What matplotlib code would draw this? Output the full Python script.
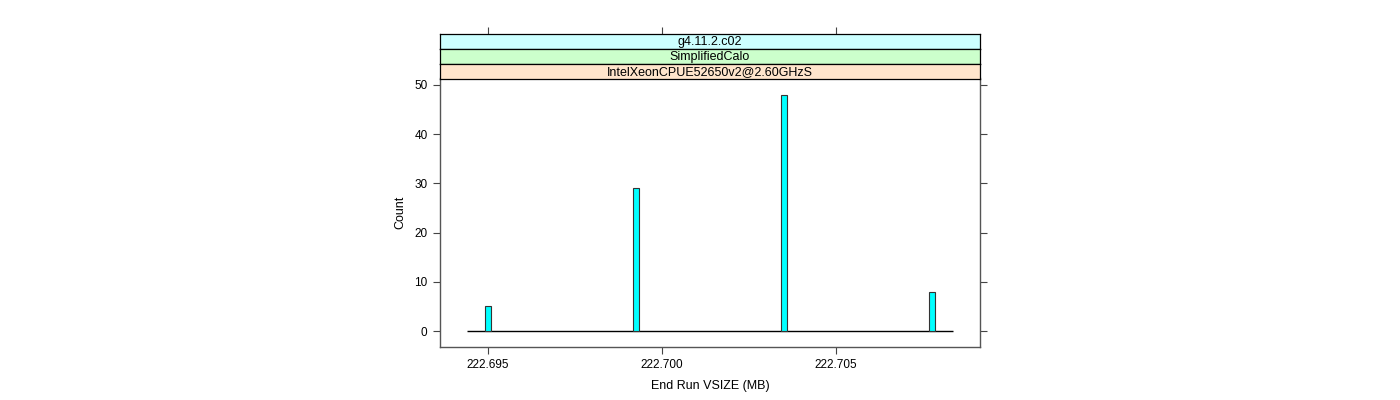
import matplotlib
matplotlib.use("Agg")
from matplotlib import pyplot as plt

plt.rcParams['font.family'] = ['Liberation Sans', 'DejaVu Sans']

# histogram data
vsize = [222.6950, 222.69925, 222.7035, 222.70775]
counts = [5, 29, 48, 8]
bin_width = 0.00017
hist_min = 222.6944
hist_max = 222.70836

strips = ["g4.11.2.c02", "SimplifiedCalo", "IntelXeonCPUE52650v2@2.60GHzS"]
strip_cols = ["#CCFFFF", "#CCFFCC", "#FFE5CC"]

xticks = [222.695, 222.700, 222.705]
xticklabels = ["222.695", "222.700", "222.705"]
yticks = [0, 10, 20, 30, 40, 50]

W, H = 1400, 400
fig = plt.figure(figsize=(14, 4), dpi=100)

def box(x0, y0, x1, y1):
    # pixel coords (top-left origin) -> figure fraction
    return [x0 / W, 1 - y1 / H, (x1 - x0) / W, (y1 - y0) / H]

border = "#555555"
ax = fig.add_axes(box(440, 78, 980, 347))
ax.bar(vsize, counts, width=bin_width, color="#00FFFF", edgecolor="#333333", linewidth=0.8, zorder=3)
ax.hlines(0, hist_min, hist_max, color="black", linewidth=1.0, zorder=2)
ax.set_xlim(222.69362, 222.70914)
ax.set_ylim(-3.25, 51.4)
ax.set_xticks(xticks)
ax.set_xticklabels(xticklabels)
ax.set_yticks(yticks)
ax.tick_params(axis='both', direction='out', length=5, width=0.8, colors='#444444',
               labelcolor='black', labelsize=8.5, right=True, pad=4)
for s in ax.spines.values():
    s.set_color(border)
    s.set_linewidth(1.0)
ax.spines['top'].set_visible(False)
ax.set_xlabel("End Run VSIZE (MB)", fontsize=9, labelpad=6)
ax.set_ylabel("Count", fontsize=9, labelpad=6)

# strips stacked above the panel, top one first
tops = [33.5, 48.5, 63.5]
for i, (lab, col) in enumerate(zip(strips, strip_cols)):
    sax = fig.add_axes(box(440, tops[i], 980, tops[i] + 15))
    sax.set_facecolor(col)
    sax.set_xlim(ax.get_xlim())
    sax.set_ylim(0, 1)
    sax.set_yticks([])
    if i == 0:
        sax.set_xticks(xticks)
        sax.tick_params(axis='x', direction='out', length=5, width=0.8, colors='#444444',
                        top=True, bottom=False, labeltop=False, labelbottom=False)
    else:
        sax.set_xticks([])
    for s in sax.spines.values():
        s.set_color("black")
        s.set_linewidth(0.9)
    sax.text(0.5, 0.42, lab, transform=sax.transAxes, ha='center', va='center', fontsize=9)

fig.savefig("out.png", dpi=100)
